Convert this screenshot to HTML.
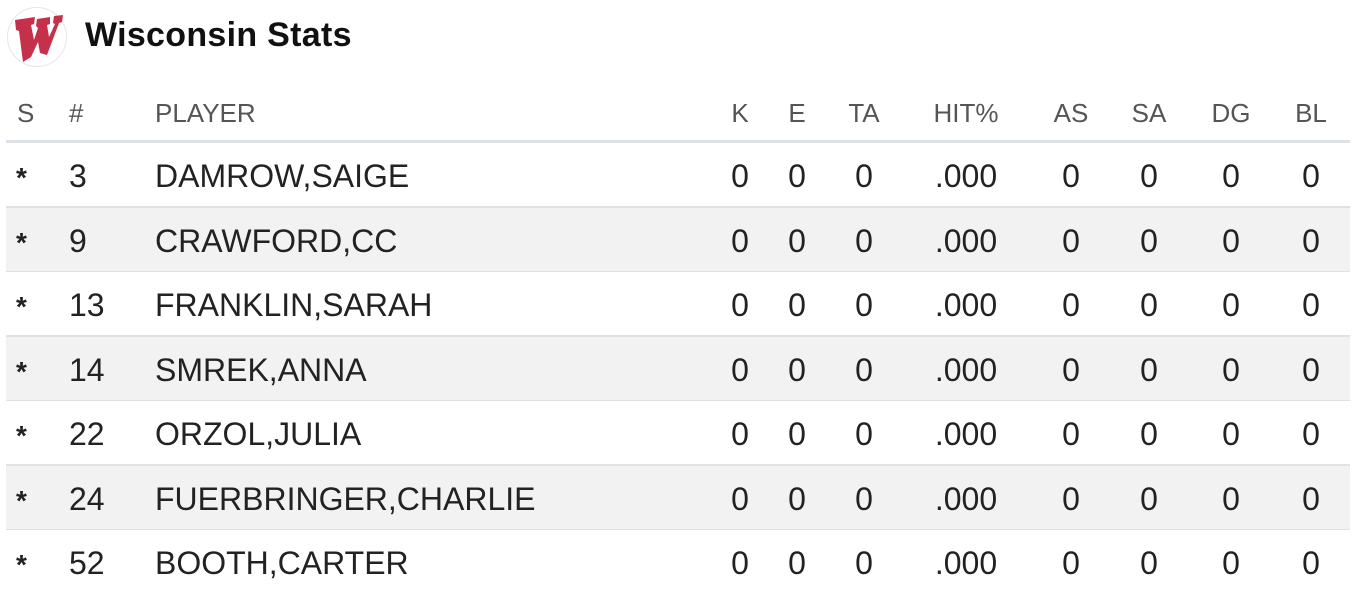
<!DOCTYPE html>
<html><head><style>
body{margin:0;width:1352px;height:592px;background:#fff;font-family:"Liberation Sans",Arial,sans-serif;overflow:hidden;position:relative}
.logo{position:absolute;left:7px;top:7px;width:60px;height:60px;border-radius:50%;border:1px solid #e6e6e6;box-sizing:border-box}
.title{position:absolute;left:85px;top:16px;font-size:34px;font-weight:bold;color:#111;letter-spacing:0.3px}
.row{position:absolute;left:6px;width:1344px;height:64px}
.c{position:absolute;transform:translateX(-50%);white-space:nowrap}
.l{position:absolute;white-space:nowrap}
.h{color:#555;font-size:26px;top:98px}
.d{font-size:32px;color:#222}
</style></head><body>
<div class="logo"><svg width="60" height="60" viewBox="0 0 60 60"><path d="M8 16 L28 13 L27 20 L24 21 L27 36 L31 24 L29 22 L30 15 L43 13 L43 20 L40 21 L42 33 L48 20 L46 19 L47 12 L56 11 L55 18 L52 19 L40 51 L33 49 L31 38 L24 53 L16 58 L12 27 L9 26 Z" fill="#c5304b" transform="translate(-1,-4)"/></svg></div>
<div class="title">Wisconsin Stats</div>
<div class="l h" style="left:17px">S</div>
<div class="l h" style="left:69px">#</div>
<div class="l h" style="left:155px">PLAYER</div>
<div class="c h" style="left:740px">K</div>
<div class="c h" style="left:797px">E</div>
<div class="c h" style="left:864px">TA</div>
<div class="c h" style="left:966px">HIT%</div>
<div class="c h" style="left:1071px">AS</div>
<div class="c h" style="left:1149px">SA</div>
<div class="c h" style="left:1231px">DG</div>
<div class="c h" style="left:1311px">BL</div>
<div style="position:absolute;left:6px;width:1344px;top:140px;height:3px;background:#dee2e6"></div>
<div id="rows"></div>
<script>
var p=[["3","DAMROW,SAIGE"],["9","CRAWFORD,CC"],["13","FRANKLIN,SARAH"],["14","SMREK,ANNA"],["22","ORZOL,JULIA"],["24","FUERBRINGER,CHARLIE"],["52","BOOTH,CARTER"]];
var h="";
p.forEach(function(r,i){var t=143+i*64.5;
h+='<div class="row" style="top:'+t+'px;background:'+(i%2?'#f2f2f2':'#fff')+';border-bottom:'+(i<6?'2px solid #dee2e6':'none')+';box-sizing:border-box;height:65px"></div>';
var y=t+15;
h+='<div class="l d" style="left:16px;top:'+(y+4)+'px;font-size:28px;font-weight:bold">*</div>';
h+='<div class="l d" style="left:69px;top:'+y+'px">'+r[0]+'</div>';
h+='<div class="l d" style="left:155px;top:'+y+'px">'+r[1]+'</div>';
[[740,"0"],[797,"0"],[864,"0"],[966,".000"],[1071,"0"],[1149,"0"],[1231,"0"],[1311,"0"]].forEach(function(c){h+='<div class="c d" style="left:'+c[0]+'px;top:'+y+'px">'+c[1]+'</div>';});
});
document.getElementById("rows").innerHTML=h;
</script>
</body></html>
